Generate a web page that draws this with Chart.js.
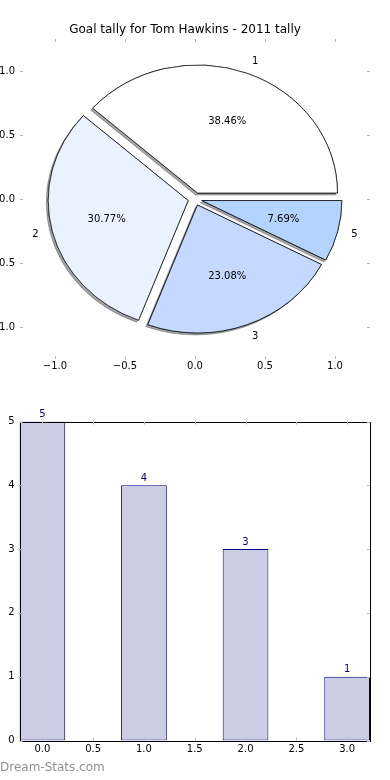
<!DOCTYPE html>
<html>
<head>
<meta charset="utf-8">
<script src="https://cdn.jsdelivr.net/npm/chart.js@4.4.1/dist/chart.umd.min.js"></script>
<style>
html,body{margin:0;padding:0;background:#fff;}
#wrap{position:relative;width:390px;height:780px;overflow:hidden;background:#fff;}
canvas{position:absolute;left:0;}
#wm{position:absolute;left:0;top:760px;font:12px "DejaVu Sans",sans-serif;color:#909090;line-height:15px;white-space:nowrap;}
</style>
</head>
<body>
<div id="wrap">
  <canvas id="pieAxes" width="390" height="380" style="top:0"></canvas>
  <canvas id="pie" width="390" height="380" style="top:0"></canvas>
  <canvas id="bar" width="390" height="400" style="top:380px"></canvas>
  <div id="wm">Dream-Stats.com</div>
</div>
<script>
// ---------- data ----------
const chartTitle = 'Goal tally for Tom Hawkins - 2011 tally';
const sliceLabels = ['1', '2', '3', '5'];
const sliceValues = [5, 4, 3, 1];
const sliceColors = ['#ffffff', '#eaf1ff', '#c5d8ff', '#b3d4ff'];
const pieTicks = [-1.0, -0.5, 0.0, 0.5, 1.0];

const barPositions = [0, 1, 2, 3];
const barValues = [5, 4, 3, 1];
const barXTicks = [0.0, 0.5, 1.0, 1.5, 2.0, 2.5, 3.0];
const barYTicks = [0, 1, 2, 3, 4, 5];

// ---------- styles ----------
const FONT = 'DejaVu Sans';
const explode = 0.05;
const tickColor = '#b8b8b8';
const fmt1 = v => Number(v).toFixed(1).replace('-', '\u2212');

Chart.defaults.font.family = FONT;
Chart.defaults.font.size = 10;
Chart.defaults.color = '#000';

function innerTicksPlugin(frame) {
  return {
    id: 'innerTicks',
    afterDraw(chart) {
      const {ctx, chartArea: a, scales} = chart;
      const x = scales.x, y = scales.y;
      const L = 3;
      ctx.save();
      if (frame) {
        ctx.strokeStyle = '#000';
        ctx.lineWidth = 1;
        ctx.strokeRect(Math.round(a.left) + 0.5, Math.round(a.top) + 0.5,
          Math.round(a.right) - Math.round(a.left), Math.round(a.bottom) - Math.round(a.top));
      }
      ctx.strokeStyle = tickColor;
      ctx.lineWidth = 1;
      ctx.beginPath();
      x.ticks.forEach((t, i) => {
        const px = Math.round(x.getPixelForTick(i)) + 0.5;
        ctx.moveTo(px, a.top); ctx.lineTo(px, a.top + L);
        ctx.moveTo(px, a.bottom); ctx.lineTo(px, a.bottom - L);
      });
      y.ticks.forEach((t, i) => {
        const py = Math.round(y.getPixelForTick(i)) + 0.5;
        ctx.moveTo(a.left, py); ctx.lineTo(a.left + L, py);
        ctx.moveTo(a.right, py); ctx.lineTo(a.right - L, py);
      });
      ctx.stroke();
      ctx.restore();
    }
  };
}

// ---------- pie axes (ticks + title) ----------
const axesChart = new Chart(document.getElementById('pieAxes'), {
  type: 'scatter',
  data: { datasets: [{ data: [] }] },
  options: {
    responsive: false, animation: false, events: [],
    layout: { padding: { top: 0, right: 20, bottom: 0, left: 0 } },
    plugins: {
      legend: { display: false }, tooltip: { enabled: false },
      title: { display: true, text: chartTitle, color: '#000',
        font: { size: 12, weight: 'normal', family: FONT },
        padding: { top: 22.8, bottom: 1.8 } }
    },
    scales: {
      x: { type: 'linear', min: -1.25, max: 1.25,
        afterBuildTicks: s => { s.ticks = pieTicks.map(v => ({ value: v })); },
        afterFit: s => { s.height = 21; },
        grid: { display: false, drawTicks: false }, border: { display: false },
        ticks: { padding: 1, autoSkip: false, maxRotation: 0, callback: v => fmt1(v) } },
      y: { type: 'linear', min: -1.25, max: 1.25,
        afterBuildTicks: s => { s.ticks = pieTicks.map(v => ({ value: v })); },
        afterFit: s => { s.width = 20; },
        grid: { display: false, drawTicks: false }, border: { display: false },
        ticks: { padding: 5, autoSkip: false, callback: v => fmt1(v) } }
    }
  },
  plugins: [innerTicksPlugin(false)]
});

// ---------- pie ----------
const total = sliceValues.reduce((a, b) => a + b, 0);
const pieDraw = {
  id: 'pieDraw',
  beforeDatasetsDraw(chart) {
    const ctx = chart.ctx;
    const meta = chart.getDatasetMeta(0);
    const sx = axesChart.scales.x, sy = axesChart.scales.y;
    const cx = sx.getPixelForValue(0), cy = sy.getPixelForValue(0);
    const rx = sx.getPixelForValue(1) - cx, ry = cy - sy.getPixelForValue(1);
    const drawArc = (arc, shadow) => {
      const R = arc.outerRadius;
      const mid = (arc.startAngle + arc.endAngle) / 2;
      ctx.save();
      if (shadow) {
        ctx.shadowColor = 'rgba(70,72,77,0.5)';
        ctx.shadowOffsetX = -2; ctx.shadowOffsetY = 2; ctx.shadowBlur = 0;
      }
      ctx.translate(cx, cy);
      ctx.scale(rx / R, -ry / R);
      ctx.translate(Math.cos(mid) * explode * R, Math.sin(mid) * explode * R);
      ctx.translate(-arc.x, -arc.y);
      arc.draw(ctx);
      ctx.restore();
    };
    meta.data.forEach(a => drawArc(a, true));
    meta.data.forEach(a => drawArc(a, false));
    ctx.save();
    ctx.fillStyle = '#000';
    ctx.font = '10px "' + FONT + '"';
    ctx.textBaseline = 'middle';
    meta.data.forEach((arc, i) => {
      const m = (arc.startAngle + arc.endAngle) / 2;
      const c = Math.cos(m), s = Math.sin(m);
      const dl = 1.1 + explode;
      ctx.textAlign = c > 0 ? 'left' : 'right';
      ctx.fillText(sliceLabels[i], cx + rx * dl * c, cy - ry * dl * s);
      const dp = 0.6 + explode;
      ctx.textAlign = 'center';
      ctx.fillText((sliceValues[i] / total * 100).toFixed(2) + '%', cx + rx * dp * c, cy - ry * dp * s);
    });
    ctx.restore();
    return false;
  }
};

new Chart(document.getElementById('pie'), {
  type: 'pie',
  data: { labels: sliceLabels, datasets: [{ data: sliceValues, backgroundColor: sliceColors,
    borderColor: '#000', borderWidth: 1, borderJoinStyle: 'miter', clip: false }] },
  options: {
    responsive: false, animation: false, events: [], rotation: 90,
    plugins: { legend: { display: false }, tooltip: { enabled: false } }
  },
  plugins: [pieDraw]
});

// ---------- bar ----------
const barLabelPlugin = {
  id: 'barLabels',
  afterDatasetsDraw(chart) {
    const ctx = chart.ctx;
    const meta = chart.getDatasetMeta(0);
    ctx.save();
    ctx.fillStyle = '#000080';
    ctx.font = '10px "' + FONT + '"';
    ctx.textAlign = 'center';
    ctx.textBaseline = 'bottom';
    meta.data.forEach((el, i) => { ctx.fillText(String(barValues[i]), el.x, el.y - 2); });
    ctx.restore();
  }
};

// bar width: Chart.js measures the smallest gap (0.5-unit tick spacing), 0.9 of it = 0.45 units
new Chart(document.getElementById('bar'), {
  type: 'bar',
  data: { datasets: [{
    data: barPositions.map((x, i) => ({ x: x, y: barValues[i] })),
    backgroundColor: '#ccccE5', borderColor: '#000080', borderWidth: 1, borderSkipped: false,
    barPercentage: 0.9, categoryPercentage: 1
  }] },
  options: {
    responsive: false, animation: false, events: [],
    layout: { padding: { top: 41.5, right: 20, bottom: 0, left: 0 } },
    plugins: { legend: { display: false }, tooltip: { enabled: false } },
    scales: {
      x: { type: 'linear', min: -0.225, max: 3.225, offset: false,
        afterBuildTicks: s => { s.ticks = barXTicks.map(v => ({ value: v })); },
        afterFit: s => { s.height = 39.5; },
        grid: { display: false, drawTicks: false }, border: { display: false },
        ticks: { padding: 2.5, autoSkip: false, maxRotation: 0, callback: v => fmt1(v) } },
      y: { type: 'linear', min: 0, max: 5,
        afterBuildTicks: s => { s.ticks = barYTicks.map(v => ({ value: v })); },
        afterFit: s => { s.width = 19.5; },
        grid: { display: false, drawTicks: false }, border: { display: false },
        ticks: { padding: 5, autoSkip: false, callback: v => String(v) } }
    }
  },
  plugins: [barLabelPlugin, innerTicksPlugin(true)]
});
</script>
</body>
</html>
